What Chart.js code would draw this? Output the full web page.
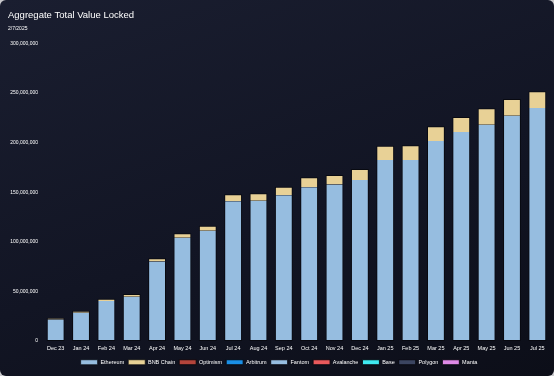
<!DOCTYPE html>
<html>
<head>
<meta charset="utf-8">
<script src="https://cdn.jsdelivr.net/npm/chart.js@4.4.1/dist/chart.umd.min.js"></script>
<style>
  html, body { margin: 0; padding: 0; background: #c9c9cc; }
  .card {
    width: 554px; height: 376px; border-radius: 6px; overflow: hidden;
    background: linear-gradient(160deg, #1a1e30 0%, #121524 55%, #0c0e18 100%);
  }
</style>
</head>
<body>
<div class="card"><canvas id="tvlChart" width="554" height="376"></canvas></div>
<script>
const months = ['Dec 23','Jan 24','Feb 24','Mar 24','Apr 24','May 24','Jun 24','Jul 24','Aug 24','Sep 24',
                'Oct 24','Nov 24','Dec 24','Jan 25','Feb 25','Mar 25','Apr 25','May 25','Jun 25','Jul 25'];
const ethereum = [21.5e6, 28.5e6, 40.3e6, 44.6e6, 80e6, 104e6, 111e6, 140.8e6, 141.4e6, 147e6,
                  155e6, 157.6e6, 162.3e6, 182.5e6, 182.5e6, 201.6e6, 210.7e6, 218e6, 227e6, 234.9e6];
const bnbChain = [1.5e6, 1.8e6, 2.2e6, 2.6e6, 3.4e6, 4.6e6, 5.0e6, 7.2e6, 7.6e6, 8.5e6,
                  10e6, 9.7e6, 11.1e6, 14.4e6, 14.7e6, 14.8e6, 15.1e6, 16.6e6, 17e6, 16.8e6];
// chains with no visible value, only in the legend
const otherChains = ['Optimism','Arbitrum','Fantom','Avalanche','Base','Polygon','Manta'];
const otherColors = ['#b3443b','#1a8fe6','#96bde0','#ea5a5c','#3fe9f0','#3b4560','#de8ae6'];

const fontFam = "'Liberation Sans', Arial, sans-serif";
const edge = 'rgba(8,10,16,0.95)';

const datasets = [
    { label: 'Ethereum', data: ethereum, backgroundColor: '#96bde0',
      borderWidth: { top: 0, left: 1, right: 1, bottom: 1 } },
    { label: 'BNB Chain', data: bnbChain, backgroundColor: '#e8d196',
      borderWidth: { top: 1, left: 1, right: 1, bottom: 0 } }
];
otherChains.forEach((name, i) => {
    datasets.push({ label: name, data: [], backgroundColor: otherColors[i], borderWidth: 1 });
});
datasets.forEach(ds => {
    ds.borderColor = edge;
    ds.borderSkipped = false;
    ds.categoryPercentage = 0.8;
    ds.barPercentage = 0.88;
});

const ctx = document.getElementById('tvlChart').getContext('2d');
const chart = new Chart(ctx, {
    type: 'bar',
    data: { labels: months, datasets: datasets },
    options: {
        responsive: false,
        animation: false,
        layout: { padding: { left: 8, right: 4, bottom: 1 } },
        scales: {
            x: {
                stacked: true,
                grid: { display: false, drawTicks: false },
                border: { display: false },
                ticks: { color: '#ffffff', font: { family: fontFam, size: 5.5 }, padding: 4, maxRotation: 0 }
            },
            y: {
                stacked: true,
                min: 0, max: 300000000,
                grid: { display: false, drawTicks: false },
                border: { display: false },
                afterFit: function(scale) { scale.width = 35; },
                ticks: {
                    stepSize: 50000000,
                    color: '#ffffff',
                    padding: 5,
                    font: { family: fontFam, size: 5 },
                    callback: v => v.toLocaleString('en-US')
                }
            }
        },
        plugins: {
            title: {
                display: true, text: 'Aggregate Total Value Locked', align: 'start',
                color: '#ffffff', font: { family: fontFam, size: 9.5, weight: 'normal' },
                padding: { top: 10, bottom: 4 }
            },
            subtitle: {
                display: true, text: '2/7/2025', align: 'start',
                color: '#ffffff', font: { family: fontFam, size: 5 },
                padding: { top: 0, bottom: 12 }
            },
            legend: {
                position: 'bottom',
                labels: {
                    color: '#ffffff', boxWidth: 17, boxHeight: 5, padding: 4,
                    font: { family: fontFam, size: 5.5 }
                }
            },
            tooltip: { enabled: false }
        }
    }
});
</script>
</body>
</html>
